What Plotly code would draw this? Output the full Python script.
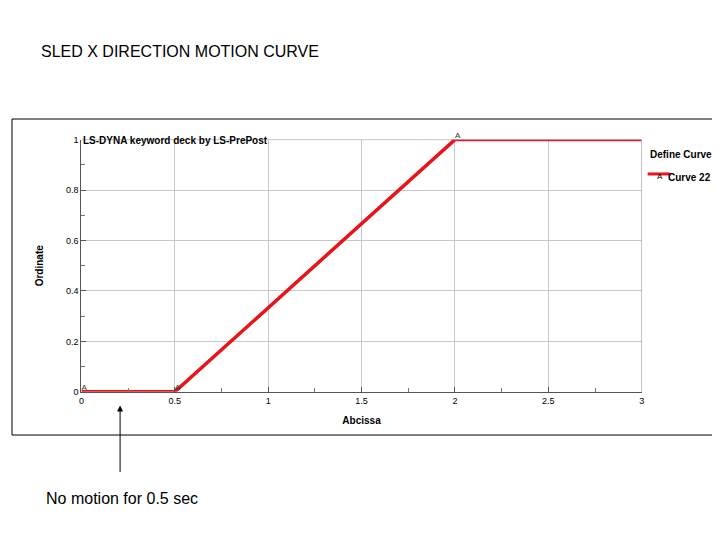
import plotly.graph_objects as go

abcissa = [0, 0.5, 2, 3]
ordinate = [0, 0, 1, 1]
marker_x = [0, 0.5, 2]
marker_y = [0, 0, 1]
x_ticks = [0, 0.5, 1, 1.5, 2, 2.5, 3]
x_labels = ["0", "0.5", "1", "1.5", "2", "2.5", "3"]
y_ticks = [0, 0.2, 0.4, 0.6, 0.8, 1]
y_labels = ["0", "0.2", "0.4", "0.6", "0.8", "1"]

W, H = 720, 540
red = "#e8141a"
font = "Liberation Sans, Arial, sans-serif"

fig = go.Figure()
fig.add_trace(go.Scatter(x=abcissa, y=ordinate, mode="lines",
                         line=dict(color=red, width=3.5), showlegend=False))
fig.add_trace(go.Scatter(x=marker_x, y=marker_y, mode="text", text=["A"] * len(marker_x),
                         textposition="top right",
                         textfont=dict(size=8, color="#333", family=font),
                         showlegend=False, cliponaxis=False))

fig.update_layout(
    width=W, height=H, margin=dict(l=0, r=0, t=0, b=0),
    paper_bgcolor="white", plot_bgcolor="white",
    font=dict(family=font, color="black"),
    xaxis=dict(domain=[71 / W, 636 / W], range=[0, 3], tickvals=x_ticks, ticktext=x_labels,
               showgrid=True, gridcolor="#c8c8c8", zeroline=False,
               showline=True, linecolor="#555", mirror=False,
               ticks="inside", ticklen=5, tickcolor="#555",
               minor=dict(dtick=0.25, ticks="inside", ticklen=4, tickcolor="#777", showgrid=False),
               tickfont=dict(size=9, family=font),
               title=dict(text="<b>Abcissa</b>", font=dict(size=10), standoff=12)),
    yaxis=dict(domain=[1 - 386 / H, 1 - 129 / H], range=[0, 1], tickvals=y_ticks, ticktext=y_labels,
               showgrid=True, gridcolor="#c8c8c8", zeroline=False,
               showline=True, linecolor="#555",
               ticks="inside", ticklen=5, tickcolor="#555",
               minor=dict(dtick=0.1, ticks="inside", ticklen=4, tickcolor="#777", showgrid=False),
               tickfont=dict(size=9, family=font),
               title=dict(text="<b>Ordinate</b>", font=dict(size=10), standoff=20)),
)

# top grid edge
fig.add_shape(type="line", xref="paper", yref="y", x0=71 / W, x1=636 / W, y0=1, y1=1,
              line=dict(color="#999", width=1))
fig.add_shape(type="line", xref="x", yref="paper", x0=3, x1=3, y0=1 - 386 / H, y1=1 - 129 / H,
              line=dict(color="#999", width=1))
# outer border of the embedded picture
fig.add_shape(type="rect", xref="paper", yref="paper", x0=1 / W, x1=719 / W,
              y0=1 - 430 / H, y1=1 - 108 / H, line=dict(color="black", width=1))

# legend
fig.add_shape(type="line", xref="paper", yref="paper", x0=642 / W, x1=665 / W,
              y0=1 - 164 / H, y1=1 - 164 / H, line=dict(color=red, width=3))
fig.add_annotation(xref="paper", yref="paper", x=642 / W, y=1 - 137 / H, text="<b>Define Curve</b>",
                   showarrow=False, xanchor="left", font=dict(size=10))
fig.add_annotation(xref="paper", yref="paper", x=649 / W, y=1 - 160 / H, text="A",
                   showarrow=False, xanchor="left", font=dict(size=8))
fig.add_annotation(xref="paper", yref="paper", x=661 / W, y=1 - 160 / H, text="<b>Curve 22</b>",
                   showarrow=False, xanchor="left", font=dict(size=10))

fig.add_annotation(xref="paper", yref="paper", x=71 / W, y=1 - 122 / H,
                   text="<b>LS-DYNA keyword deck by LS-PrePost</b>",
                   showarrow=False, xanchor="left", font=dict(size=10))

fig.add_annotation(xref="paper", yref="paper", x=28 / W, y=1 - 29 / H,
                   text="SLED X DIRECTION MOTION CURVE",
                   showarrow=False, xanchor="left", font=dict(size=16, family=font))

fig.add_annotation(xref="paper", yref="paper", x=110 / W, y=1 - 400 / H,
                   ax=0, ay=68, axref="pixel", ayref="pixel",
                   text="", showarrow=True, arrowhead=2, arrowsize=1.2, arrowwidth=1,
                   arrowcolor="black")
fig.add_annotation(xref="paper", yref="paper", x=33 / W, y=1 - 505 / H,
                   text="No motion for 0.5 sec",
                   showarrow=False, xanchor="left", font=dict(size=16, family=font))

fig.write_html("out.html")
